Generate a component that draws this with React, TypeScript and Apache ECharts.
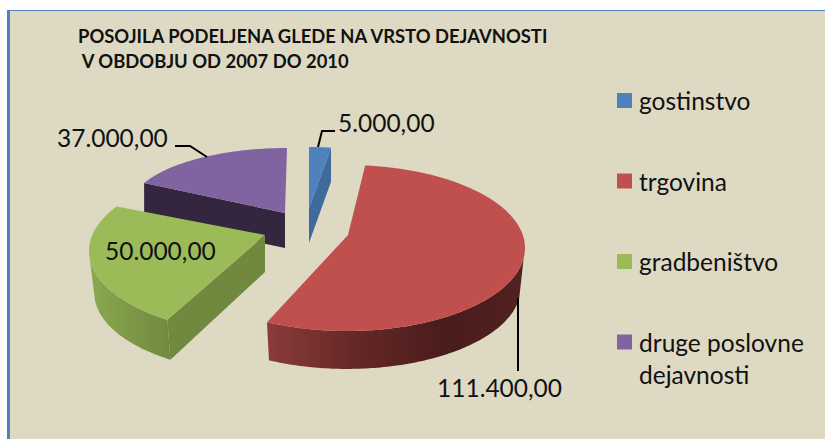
import React, { useEffect, useRef } from "react";
import * as echarts from "echarts";

const titleLines = ["POSOJILA PODELJENA GLEDE NA VRSTO DEJAVNOSTI", " V OBDOBJU OD 2007 DO 2010"];
const categories = ["gostinstvo", "trgovina", "gradbeništvo", "druge poslovne dejavnosti"];
const values = [5000, 111400, 50000, 37000];

const total = values.reduce((s, v) => s + v, 0);
const fmt = (v: number) => v.toFixed(2).replace(".", ",").replace(/\B(?=(\d{3})+(?!\d))/g, ".");

const BG = "#DDD9C3";
const FONT = "Lato";

type Geo = {
  top: string; wall: any; cut?: string; cutSide?: "start" | "end";
  cx: number; cy: number; a: number; b: number; ax: number; ay: number; adjS: number; adjE: number;
  depth: number; apexDrop: number; shrink: number;
  wallFrom?: number; wallTo?: number; z: number;
  label: [number, number]; leader?: number[][];
};

const h = (stops: [number, string][]) =>
  new echarts.graphic.LinearGradient(0, 0, 1, 0, stops.map(([offset, color]) => ({ offset, color })));

const geometry: Geo[] = [
  { top: "#4F81BD", wall: "#3F6A9C", cut: "#3F6A9C", cutSide: "end", cx: 309, cy: 208, a: 143, b: 61, ax: 309, ay: 208, adjS: 0, adjE: 0, depth: 34, apexDrop: 35, shrink: 1, z: 3,
    label: [338, 122], leader: [[318, 147], [322, 131], [335, 131]] },
  { top: "#C0504D", wall: h([[0, "#8C3B3B"], [0.35, "#642827"], [0.7, "#4A1C1B"], [1, "#522120"]]), cx: 347, cy: 248, a: 178, b: 83, ax: 348, ay: 235, adjS: -3, adjE: 0.7, depth: 40, apexDrop: 40, shrink: 0.975, wallFrom: 97, z: 4,
    label: [437, 387.5], leader: [[518, 298], [518, 371]] },
  { top: "#9BBB59", wall: h([[0, "#8AA94F"], [1, "#70893F"]]), cut: "#70893F", cutSide: "start", cx: 267, cy: 251, a: 178, b: 83, ax: 265, ay: 235, adjS: 8, adjE: 8, depth: 42, apexDrop: 37, shrink: 0.97, wallFrom: 214, wallTo: 268, z: 3,
    label: [105, 250.5] },
  { top: "#8064A2", wall: "#35263F", cut: "#35263F", cutSide: "start", cx: 287, cy: 208, a: 157, b: 60, ax: 285, ay: 213, adjS: 0, adjE: 0, depth: 35, apexDrop: 35, shrink: 1, z: 2,
    label: [57, 137.5], leader: [[207, 157], [190, 146], [175, 146]] },
];
const legendColors = ["#4F81BD", "#C0504D", "#9BBB59", "#8064A2"];

const rim = (g: Geo, deg: number, drop = 0, k = 1): number[] => {
  const t = (deg * Math.PI) / 180;
  return [g.cx + g.a * k * Math.sin(t), g.cy + drop - g.b * k * Math.cos(t)];
};
const arc = (g: Geo, from: number, to: number, drop = 0, k = 1) => {
  const pts: number[][] = [];
  const n = Math.max(2, Math.ceil(Math.abs(to - from)));
  for (let i = 0; i <= n; i++) pts.push(rim(g, from + ((to - from) * i) / n, drop, k));
  return pts;
};

const makeSeries = (idx: number) => {
  const g = geometry[idx];
  const startFrac = values.slice(0, idx).reduce((s, v) => s + v, 0) / total;
  return {
    type: "custom",
    name: idx === 3 ? "\n" + categories[3].replace(" dejavnosti", "\ndejavnosti") : categories[idx],
    coordinateSystem: "none",
    silent: true,
    z: g.z,
    itemStyle: { color: legendColors[idx] },
    data: [values[idx]],
    renderItem: (_p: any, api: any) => {
      const v = api.value(0);
      const s = startFrac * 360 + g.adjS;
      const e = startFrac * 360 + (v / total) * 360 + g.adjE;
      const children: any[] = [];
      if (g.cut) {
        const ang = g.cutSide === "start" ? s : e;
        children.push({
          type: "polygon",
          shape: { points: [[g.ax, g.ay], rim(g, ang), rim(g, ang, g.depth, g.shrink), [g.ax, g.ay + g.apexDrop]] },
          style: { fill: g.cut },
        });
      }
      if (g.wallFrom !== undefined) {
        const from = Math.max(g.wallFrom, s);
        const to = g.wallTo !== undefined ? Math.min(g.wallTo, e) : e;
        children.push({
          type: "polygon",
          shape: { points: [...arc(g, from, to), ...arc(g, to, from, g.depth, g.shrink)] },
          style: { fill: g.wall },
        });
      }
      children.push({
        type: "polygon",
        shape: { points: [[g.ax, g.ay], ...arc(g, s, e)] },
        style: { fill: g.top },
      });
      if (g.leader) {
        children.push({
          type: "polyline",
          shape: { points: g.leader },
          style: { stroke: "#000", lineWidth: 2, fill: "none" },
        });
      }
      children.push({
        type: "text",
        style: {
          text: fmt(v), x: g.label[0], y: g.label[1], fill: "#111",
          font: `24.5px ${FONT}`, verticalAlign: "middle", align: "left",
        },
      });
      return { type: "group", children };
    },
  };
};

export default function App() {
  const ref = useRef<HTMLDivElement>(null);
  useEffect(() => {
    document.body.style.margin = "0";
    const chart = echarts.init(ref.current!, undefined, { renderer: "svg" });
    const names = categories.map((_, i) => makeSeries(i).name);
    const legendBase = {
      orient: "vertical", left: 617, padding: 0, icon: "rect", itemWidth: 15, itemHeight: 15,
      selectedMode: false,
      textStyle: { fontFamily: FONT, fontSize: 24.5, color: "#111", lineHeight: 32, padding: [0, 0, 0, 2] },
    };
    chart.setOption({
      animation: false,
      backgroundColor: "#fff",
      graphic: [
        { type: "rect", z: -2, silent: true, shape: { x: 7, y: 10, width: 818, height: 429 }, style: { fill: "#4F81BD" } },
        { type: "rect", z: -1, silent: true, shape: { x: 10, y: 11, width: 815, height: 428 }, style: { fill: BG } },
      ],
      title: [
        { text: titleLines[0], left: 78, top: 27, padding: 0, textStyle: { fontFamily: FONT, fontWeight: "bold", fontSize: 18.4, color: "#111" } },
        { text: titleLines[1], left: 78, top: 52, padding: 0, textStyle: { fontFamily: FONT, fontWeight: "bold", fontSize: 18.4, color: "#111" } },
      ],
      legend: [
        { ...legendBase, top: 84.5, itemGap: 48.5, data: names.slice(0, 3) },
        { ...legendBase, top: 294, itemGap: 0, data: names.slice(3) },
      ],
      series: categories.map((_, i) => makeSeries(i)),
    });
    return () => chart.dispose();
  }, []);
  return <div ref={ref} style={{ position: "absolute", left: 0, top: 0, width: 825, height: 439 }} />;
}
